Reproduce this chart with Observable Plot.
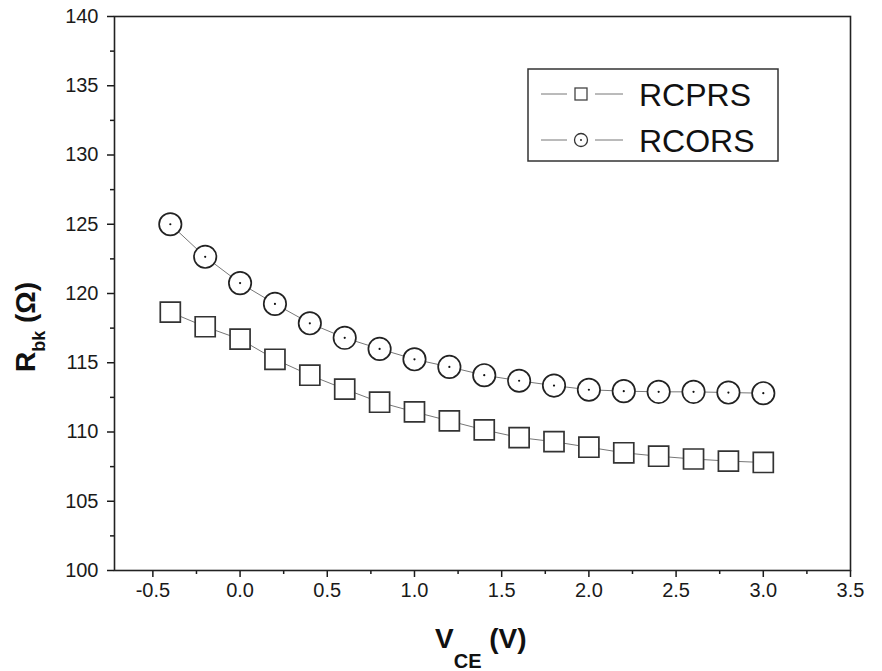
<!DOCTYPE html>
<html>
<head>
<meta charset="utf-8">
<script src="https://cdn.jsdelivr.net/npm/d3@7"></script>
<script src="https://cdn.jsdelivr.net/npm/@observablehq/plot@0.6"></script>
<style>
  html, body { margin: 0; padding: 0; background: white; }
  #chart { position: relative; width: 882px; height: 671px; }
</style>
</head>
<body>
<div id="chart"></div>
<script>
const vce = [-0.4, -0.2, 0.0, 0.2, 0.4, 0.6, 0.8, 1.0, 1.2, 1.4, 1.6, 1.8, 2.0, 2.2, 2.4, 2.6, 2.8, 3.0];
const rcprs = [118.65, 117.6, 116.7, 115.25, 114.1, 113.1, 112.15, 111.45, 110.8, 110.15, 109.6, 109.3, 108.9, 108.5, 108.25, 108.05, 107.9, 107.8];
const rcors = [125.0, 122.65, 120.75, 119.25, 117.85, 116.8, 116.0, 115.25, 114.7, 114.1, 113.7, 113.35, 113.05, 112.95, 112.9, 112.9, 112.85, 112.8];
const seriesNames = ["RCPRS", "RCORS"];
const xMajor = [-0.5, 0.0, 0.5, 1.0, 1.5, 2.0, 2.5, 3.0, 3.5];
const xMinor = [-0.25, 0.25, 0.75, 1.25, 1.75, 2.25, 2.75, 3.25];
const yMajor = [100, 105, 110, 115, 120, 125, 130, 135, 140];
const yMinor = [102.5, 107.5, 112.5, 117.5, 122.5, 127.5, 132.5, 137.5];

const sq = vce.map((x, i) => ({x, y: rcprs[i], s: seriesNames[0]}));
const ci = vce.map((x, i) => ({x, y: rcors[i], s: seriesNames[1]}));
const all = sq.concat(ci);

const plot = Plot.plot({
  width: 882,
  height: 671,
  marginLeft: 114,
  marginRight: 32,
  marginTop: 16,
  marginBottom: 101,
  x: {domain: [-0.72, 3.5]},
  y: {domain: [100, 140]},
  style: {fontFamily: "'Liberation Sans', Arial, sans-serif", fontSize: "20px", color: "#1a1a1a", background: "white"},
  marks: [
    Plot.axisX({ticks: xMajor, tickSize: 7, tickPadding: 5, tickFormat: d => d.toFixed(1), label: null, fontSize: 20, strokeWidth: 1.5}),
    Plot.axisX({ticks: xMinor, tickSize: 4, tickFormat: () => "", label: null, strokeWidth: 1.5}),
    Plot.axisY({ticks: yMajor, tickSize: 7, tickPadding: 9, tickFormat: d3.format("d"), label: null, fontSize: 20, strokeWidth: 1.5}),
    Plot.axisY({ticks: yMinor, tickSize: 4, tickFormat: () => "", label: null, strokeWidth: 1.5}),
    Plot.frame({stroke: "#222", strokeWidth: 1.6}),
    Plot.line(all, {x: "x", y: "y", z: "s", stroke: "#777", strokeWidth: 1}),
    Plot.dot(sq, {x: "x", y: "y", symbol: "square", r: 11.3, stroke: "#333", fill: "white", strokeWidth: 1.7}),
    Plot.dot(ci, {x: "x", y: "y", symbol: "circle", r: 11.2, stroke: "#222", fill: "white", strokeWidth: 1.7}),
    Plot.dot(ci, {x: "x", y: "y", r: 1.1, fill: "#111"})
  ]
});

document.getElementById("chart").appendChild(plot);

const svg = d3.select(plot);
const bold = "'Liberation Sans', Arial, sans-serif";

// Y axis label
const yl = svg.append("text")
  .attr("transform", "translate(35,372) rotate(-90)")
  .attr("text-anchor", "start")
  .attr("font-family", bold).attr("font-weight", "bold").attr("fill", "#111");
yl.append("tspan").attr("font-size", 28).text("R");
yl.append("tspan").attr("font-size", 18).attr("dy", 10).text("bk");
yl.append("tspan").attr("font-size", 28).attr("dy", -10).text(" (Ω)");

// X axis label
const xl = svg.append("text")
  .attr("x", 435).attr("y", 648)
  .attr("text-anchor", "start")
  .attr("font-family", bold).attr("font-weight", "bold").attr("fill", "#111");
xl.append("tspan").attr("font-size", 28).text("V");
xl.append("tspan").attr("font-size", 20).attr("dy", 20).text("CE");
xl.append("tspan").attr("font-size", 28).attr("dy", -20).text(" (V)");

// Legend
const lg = svg.append("g");
lg.append("rect").attr("x", 528).attr("y", 69).attr("width", 250).attr("height", 92)
  .attr("fill", "white").attr("stroke", "#333").attr("stroke-width", 1.5);
const rows = [{name: seriesNames[0], cy: 94, sym: "square"}, {name: seriesNames[1], cy: 140, sym: "circle"}];
rows.forEach(r => {
  lg.append("line").attr("x1", 541).attr("x2", 567).attr("y1", r.cy).attr("y2", r.cy).attr("stroke", "#777").attr("stroke-width", 1);
  lg.append("line").attr("x1", 595).attr("x2", 623).attr("y1", r.cy).attr("y2", r.cy).attr("stroke", "#777").attr("stroke-width", 1);
  if (r.sym === "square") {
    lg.append("rect").attr("x", 575).attr("y", r.cy - 6).attr("width", 12).attr("height", 12)
      .attr("fill", "white").attr("stroke", "#444").attr("stroke-width", 1.3);
  } else {
    lg.append("circle").attr("cx", 581).attr("cy", r.cy).attr("r", 6.5)
      .attr("fill", "white").attr("stroke", "#333").attr("stroke-width", 1.3);
    lg.append("circle").attr("cx", 581).attr("cy", r.cy).attr("r", 0.9).attr("fill", "#111");
  }
  lg.append("text").attr("x", 639).attr("y", r.cy + 11.5)
    .attr("text-anchor", "start")
    .attr("font-family", bold).attr("font-size", 32).attr("fill", "#111").text(r.name);
});
</script>
</body>
</html>
